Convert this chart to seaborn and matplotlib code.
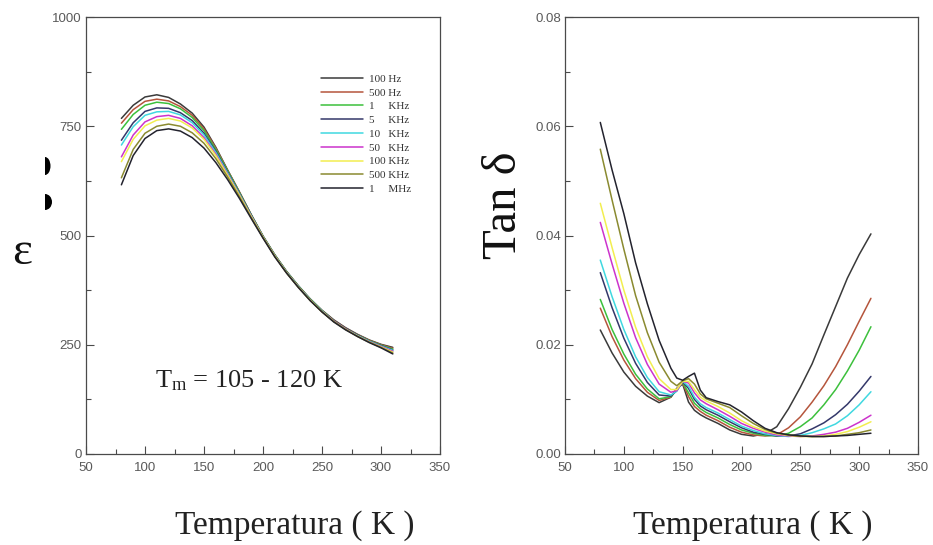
import numpy as np
import pandas as pd
import seaborn as sns
import matplotlib
matplotlib.use("Agg")
import matplotlib.pyplot as plt
from matplotlib.ticker import MultipleLocator, FormatStrFormatter
from matplotlib.patches import Ellipse, Rectangle

# ---------------- data ----------------
freqs = ["100 Hz", "500 Hz", "1 KHz", "5 KHz", "10 KHz", "50 KHz", "100 KHz", "500 KHz", "1 MHz"]
legend_labels = ["100 Hz", "500 Hz", "1     KHz", "5     KHz", "10   KHz", "50   KHz",
                 "100 KHz", "500 KHz", "1     MHz"]
colors = ["#3a3a3a", "#b5553c", "#3cc03c", "#34386a", "#40d8e0", "#cc33cc", "#f2ee50", "#8a8a30", "#23232e"]

T_eps = [80, 90, 100, 110, 120, 130, 140, 150, 160, 170, 180, 190, 200, 210, 220, 230,
         240, 250, 260, 270, 280, 290, 300, 310]
eps_100Hz = [768, 798, 817, 822, 816, 801, 780, 748, 702, 650, 600, 548, 499, 456, 418, 385, 355, 329, 307, 289, 274, 261, 251, 244]
eps_500Hz = [757, 788, 807, 812, 808, 795, 775, 744, 700, 649, 599, 547, 498, 455, 417, 384, 354, 328, 306, 288, 273, 260, 250, 242]
eps_1kHz = [743, 777, 798, 805, 802, 790, 770, 740, 697, 648, 598, 547, 498, 455, 417, 384, 354, 328, 305, 287, 272, 259, 249, 240]
eps_5kHz = [718, 758, 784, 792, 791, 781, 763, 734, 693, 645, 596, 546, 497, 454, 416, 383, 353, 327, 305, 287, 272, 258, 248, 238]
eps_10kHz = [707, 749, 775, 783, 784, 776, 758, 730, 690, 643, 595, 545, 497, 454, 416, 383, 353, 327, 304, 286, 271, 258, 247, 237]
eps_50kHz = [680, 730, 760, 772, 775, 768, 751, 724, 686, 640, 593, 544, 496, 453, 415, 382, 352, 326, 304, 286, 270, 257, 246, 235]
eps_100kHz = [669, 720, 751, 764, 768, 762, 746, 720, 683, 638, 592, 543, 496, 453, 415, 382, 352, 326, 303, 285, 270, 256, 245, 233]
eps_500kHz = [632, 697, 734, 750, 755, 750, 735, 711, 676, 634, 589, 541, 495, 452, 414, 381, 351, 325, 303, 285, 269, 256, 244, 231]
eps_1MHz = [616, 683, 722, 740, 744, 739, 724, 700, 667, 628, 585, 539, 494, 451, 414, 381, 351, 325, 302, 284, 269, 255, 243, 229]

T_tan = [80, 90, 100, 110, 120, 130, 140, 145, 150, 155, 160, 165, 170, 180, 190, 200,
         210, 220, 230, 240, 250, 260, 270, 280, 290, 300, 310]
tan_100Hz = [0.0227, 0.0185, 0.0150, 0.0124, 0.0106, 0.0094, 0.0104, 0.0120, 0.0128, 0.0095, 0.0080, 0.0072, 0.0066,
             0.0056, 0.0044, 0.0036, 0.0033, 0.0037, 0.0050, 0.0083, 0.0122, 0.0165, 0.0218, 0.0270, 0.0322, 0.0365, 0.0403]
tan_500Hz = [0.0267, 0.0215, 0.0172, 0.0138, 0.0113, 0.0098, 0.0104, 0.0120, 0.0130, 0.0105, 0.0087, 0.0078, 0.0071,
             0.0061, 0.0049, 0.0040, 0.0035, 0.0033, 0.0035, 0.0048, 0.0068, 0.0095, 0.0125, 0.0160, 0.0200, 0.0243, 0.0285]
tan_1kHz = [0.0283, 0.0228, 0.0183, 0.0146, 0.0119, 0.0101, 0.0105, 0.0118, 0.0131, 0.0112, 0.0093, 0.0083, 0.0076,
            0.0066, 0.0054, 0.0044, 0.0038, 0.0034, 0.0033, 0.0038, 0.0050, 0.0066, 0.0090, 0.0118, 0.0152, 0.0190, 0.0233]
tan_5kHz = [0.0332, 0.0268, 0.0212, 0.0166, 0.0131, 0.0108, 0.0106, 0.0116, 0.0132, 0.0120, 0.0100, 0.0088, 0.0081,
            0.0071, 0.0059, 0.0048, 0.0040, 0.0036, 0.0033, 0.0033, 0.0037, 0.0046, 0.0057, 0.0072, 0.0091, 0.0115, 0.0142]
tan_10kHz = [0.0355, 0.0288, 0.0228, 0.0178, 0.0140, 0.0114, 0.0108, 0.0115, 0.0133, 0.0124, 0.0104, 0.0092, 0.0085,
             0.0075, 0.0063, 0.0051, 0.0043, 0.0037, 0.0034, 0.0032, 0.0034, 0.0039, 0.0046, 0.0055, 0.0070, 0.0090, 0.0114]
tan_50kHz = [0.0424, 0.0348, 0.0276, 0.0213, 0.0164, 0.0128, 0.0113, 0.0116, 0.0133, 0.0130, 0.0112, 0.0099, 0.0092,
             0.0081, 0.0069, 0.0056, 0.0047, 0.0040, 0.0035, 0.0033, 0.0032, 0.0033, 0.0036, 0.0040, 0.0047, 0.0058, 0.0071]
tan_100kHz = [0.0459, 0.0378, 0.0300, 0.0232, 0.0178, 0.0138, 0.0118, 0.0118, 0.0133, 0.0133, 0.0118, 0.0104, 0.0097,
              0.0087, 0.0075, 0.0061, 0.0050, 0.0042, 0.0037, 0.0034, 0.0032, 0.0032, 0.0033, 0.0036, 0.0041, 0.0049, 0.0059]
tan_500kHz = [0.0558, 0.0465, 0.0375, 0.0290, 0.0222, 0.0168, 0.0133, 0.0125, 0.0134, 0.0138, 0.0128, 0.0110, 0.0101,
              0.0093, 0.0085, 0.0070, 0.0056, 0.0045, 0.0038, 0.0035, 0.0033, 0.0032, 0.0032, 0.0033, 0.0036, 0.0039, 0.0044]
tan_1MHz = [0.0607, 0.0520, 0.0440, 0.0350, 0.0275, 0.0208, 0.0157, 0.0139, 0.0135, 0.0142, 0.0148, 0.0117, 0.0103,
            0.0096, 0.0090, 0.0077, 0.0061, 0.0047, 0.0039, 0.0035, 0.0033, 0.0032, 0.0032, 0.0033, 0.0034, 0.0036, 0.0038]

eps_series = [eps_100Hz, eps_500Hz, eps_1kHz, eps_5kHz, eps_10kHz, eps_50kHz, eps_100kHz, eps_500kHz, eps_1MHz]
tan_series = [tan_100Hz, tan_500Hz, tan_1kHz, tan_5kHz, tan_10kHz, tan_50kHz, tan_100kHz, tan_500kHz, tan_1MHz]

df_eps = pd.concat([pd.DataFrame({"T": T_eps, "val": v, "freq": f}) for f, v in zip(freqs, eps_series)])
df_tan = pd.concat([pd.DataFrame({"T": T_tan, "val": v, "freq": f}) for f, v in zip(freqs, tan_series)])
palette = dict(zip(freqs, colors))

# ---------------- style ----------------
sns.set_theme(style="white")
plt.rcParams["font.family"] = ["Liberation Sans", "DejaVu Sans"]
SERIF = ["Liberation Serif", "DejaVu Serif"]
AX_COL = "#4a4a4a"
LAB_COL = "#5a5a5a"

W, H = 933, 545
fig = plt.figure(figsize=(W / 100, H / 100), dpi=100)
fig.patch.set_facecolor("white")
ax1 = fig.add_axes([86 / W, 91 / H, 354 / W, 437 / H])
ax2 = fig.add_axes([565 / W, 91 / H, 353 / W, 437 / H])

sns.lineplot(data=df_eps, x="T", y="val", hue="freq", hue_order=freqs, palette=palette,
             ax=ax1, legend=False, lw=1.1, sort=False, estimator=None)
sns.lineplot(data=df_tan, x="T", y="val", hue="freq", hue_order=freqs, palette=palette,
             ax=ax2, legend=False, lw=1.1, sort=False, estimator=None)

for ax in (ax1, ax2):
    ax.set_xlim(50, 350)
    ax.xaxis.set_major_locator(MultipleLocator(50))
    ax.xaxis.set_minor_locator(MultipleLocator(25))
    ax.set_xlabel("")
    ax.set_ylabel("")
    for s in ax.spines.values():
        s.set_color(AX_COL)
        s.set_linewidth(0.9)
        s.set_visible(True)
    ax.tick_params(which="both", direction="in", top=False, right=False, bottom=True, left=True,
                   color=AX_COL, labelcolor=LAB_COL, labelsize=9.5, width=0.8)
    ax.tick_params(which="major", length=6)
    ax.tick_params(which="minor", length=3.5)
    ax.tick_params(axis="x", pad=6)
    ax.tick_params(axis="y", pad=3)

ax1.set_ylim(0, 1000)
ax1.yaxis.set_major_locator(MultipleLocator(250))
ax1.yaxis.set_minor_locator(MultipleLocator(125))

ax2.set_ylim(0, 0.08)
ax2.yaxis.set_major_locator(MultipleLocator(0.02))
ax2.yaxis.set_minor_locator(MultipleLocator(0.01))
ax2.yaxis.set_major_formatter(FormatStrFormatter("%.2f"))

# legend
handles = ax1.get_lines()[:len(freqs)]
leg = ax1.legend(handles, legend_labels, loc="upper left",
                 bbox_to_anchor=(321 / W, 1 - 74 / H), bbox_transform=fig.transFigure,
                 frameon=False, borderpad=0, borderaxespad=0, handlelength=3.8,
                 handletextpad=0.55, labelspacing=0.36, prop={"family": SERIF, "size": 8})
for t in leg.get_texts():
    t.set_color("#333333")

# texts
fig.text(295 / W, 1 - 534 / H, "Temperatura ( K )", family=SERIF, fontsize=24,
         ha="center", va="baseline", color="#222222")
fig.text(753 / W, 1 - 534 / H, "Temperatura ( K )", family=SERIF, fontsize=24,
         ha="center", va="baseline", color="#222222")
fig.text(504 / W, 1 - 205 / H, "Tan δ", family=SERIF, fontsize=35, rotation=90,
         ha="center", va="center", color="#111111")
fig.text(22 / W, 1 - 253 / H, "ε", family=SERIF, fontsize=34,
         ha="center", va="center", color="#111111")
fig.text(155 / W, 1 - 387 / H, r"$\mathregular{T_m}$ = 105 - 120 K", family=SERIF, fontsize=19,
         ha="left", va="baseline", color="#222222")

# cropped black marks at left edge
clip = Rectangle((45 / W, 0), 1, 1, transform=fig.transFigure, visible=False)
fig.add_artist(clip)
for yc, hh, ww in [(166, 18, 11), (202, 16, 14)]:
    e = Ellipse((45 / W, 1 - yc / H), ww / W, hh / H, transform=fig.transFigure,
                facecolor="black", edgecolor="none")
    fig.add_artist(e)
    e.set_clip_path(clip)

fig.savefig("out.png", dpi=100, facecolor="white")
